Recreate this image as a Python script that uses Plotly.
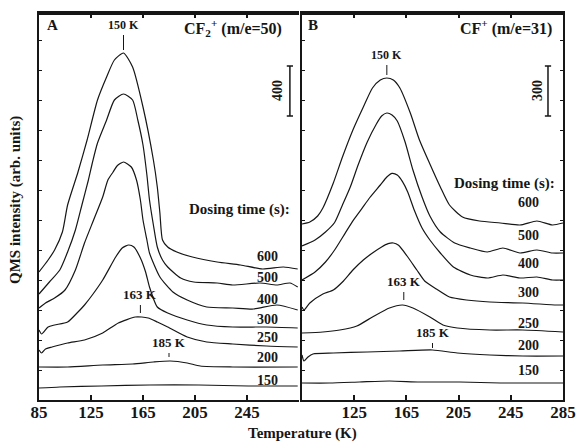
import plotly.graph_objects as go

# ---------------- data ----------------
DOSES = ["600", "500", "400", "300", "250", "200", "150"]
X_TICKS_A = [85, 125, 165, 205, 245]
X_TICKS_B = [125, 165, 205, 245, 285]

# Panel A : CF2+ (m/e=50), offset traces, arb. units
T_A_600 = [85, 92, 97, 103, 107, 115, 122, 130, 137, 143, 150, 157, 165, 173, 176, 178, 180, 184, 191, 203, 222, 240, 257, 273, 284]
I_A_600 = [1024, 1120, 1200, 1344, 1560, 1824, 2080, 2400, 2584, 2720, 2776, 2664, 2344, 1920, 1704, 1496, 1280, 1224, 1184, 1144, 1104, 1080, 1048, 1064, 1048]
T_A_500 = [85, 93, 101, 107, 113, 118, 123, 126, 130, 137, 143, 150, 157, 161, 165, 168, 170, 173, 176, 180, 184, 194, 204, 222, 234, 255, 268, 278, 284]
I_A_500 = [848, 944, 1040, 1184, 1360, 1560, 1760, 1896, 2056, 2240, 2400, 2448, 2400, 2240, 2040, 1800, 1600, 1400, 1224, 1120, 1064, 976, 944, 936, 920, 936, 920, 936, 904]
T_A_400 = [85, 90, 97, 105, 113, 120, 127, 134, 138, 142, 145, 150, 156, 160, 163, 165, 168, 170, 178, 188, 199, 214, 234, 250, 268, 284]
I_A_400 = [736, 776, 816, 880, 1040, 1256, 1440, 1624, 1760, 1824, 1872, 1904, 1864, 1760, 1600, 1440, 1280, 1176, 984, 864, 800, 744, 736, 728, 760, 720]
T_A_300 = [85, 87, 92, 97, 107, 115, 120, 126, 134, 144, 149, 154, 158, 163, 167, 170, 176, 184, 199, 214, 234, 260, 284]
I_A_300 = [560, 528, 584, 600, 624, 704, 760, 840, 960, 1144, 1216, 1240, 1224, 1136, 1024, 904, 744, 696, 640, 600, 584, 584, 576]
T_A_250 = [85, 87, 90, 95, 107, 120, 134, 146, 159, 164, 169, 176, 184, 199, 214, 234, 260, 284]
I_A_250 = [400, 376, 408, 424, 456, 480, 536, 616, 664, 664, 656, 624, 584, 504, 464, 448, 432, 424]
T_A_200 = [85, 107, 134, 157, 173, 186, 199, 209, 234, 284]
I_A_200 = [264, 264, 280, 288, 304, 312, 296, 272, 264, 264]
T_A_150 = [85, 101, 133, 170, 208, 246, 284]
I_A_150 = [96, 104, 112, 120, 120, 112, 112]

# Panel B : CF+ (m/e=31)
T_B_600 = [85, 91, 97, 101, 109, 116, 124, 132, 139, 145, 150, 155, 160, 168, 175, 183, 191, 198, 208, 221, 237, 252, 265, 277, 285]
I_B_600 = [1056, 1068, 1104, 1152, 1302, 1458, 1620, 1758, 1872, 1920, 1932, 1920, 1872, 1722, 1560, 1416, 1278, 1170, 1098, 1074, 1062, 1050, 1074, 1050, 1062]
T_B_500 = [85, 95, 103, 110, 116, 122, 128, 135, 142, 146, 150, 154, 158, 164, 170, 177, 183, 191, 202, 214, 227, 239, 252, 265, 277, 285]
I_B_500 = [924, 960, 1008, 1065, 1170, 1278, 1410, 1548, 1656, 1704, 1722, 1710, 1674, 1548, 1380, 1218, 1104, 1008, 942, 912, 888, 912, 882, 900, 882, 882]
T_B_400 = [85, 95, 103, 110, 118, 124, 131, 137, 145, 150, 154, 158, 162, 166, 171, 177, 183, 191, 201, 214, 227, 239, 252, 265, 277, 285]
I_B_400 = [720, 768, 828, 900, 1000, 1075, 1150, 1215, 1290, 1338, 1360, 1350, 1310, 1248, 1140, 1032, 960, 882, 798, 750, 732, 750, 732, 738, 720, 720]
T_B_300 = [85, 86.5, 91, 101, 109, 116, 124, 132, 139, 146, 151, 155, 159, 165.5, 173, 179, 188, 198, 211, 229, 254, 280, 285]
I_B_300 = [558, 540, 582, 636, 660, 708, 780, 840, 882, 918, 938, 942, 928, 864, 780, 714, 666, 618, 600, 588, 582, 570, 570]
T_B_250 = [85, 101, 114, 127, 139, 152, 162, 170, 183, 193, 204, 229, 254, 285]
I_B_250 = [402, 408, 420, 444, 498, 552, 570, 552, 498, 450, 432, 420, 420, 408]
T_B_200 = [85, 86.5, 89.6, 93.4, 109, 135, 160, 185, 204, 229, 254, 285]
I_B_200 = [270, 234, 258, 276, 282, 288, 294, 300, 282, 270, 264, 264]
T_B_150 = [85, 106, 129, 152, 175, 206, 237, 285]
I_B_150 = [102, 102, 108, 114, 108, 108, 102, 102]

SCALE_A = 400   # scale-bar value, panel A
SCALE_B = 300   # scale-bar value, panel B

# ---------------- geometry / style ----------------
W, H = 577, 442
X0, X1, Y0, Y1 = 39, 563, 13, 400          # plot box in page pixels
L, R, T, B = X0, W - X1, Y0, H - Y1
PW, PH = X1 - X0, Y1 - Y0
UNIT_A = 8.0   # data units per pixel (vertical)
UNIT_B = 6.0
FONT = "Liberation Serif, Times New Roman, DejaVu Serif, serif"
INK = "#161616"


def px(x):
    return (x - X0) / PW


def py(y):
    return (Y1 - y) / PH


curves_A = [(T_A_600, I_A_600), (T_A_500, I_A_500), (T_A_400, I_A_400), (T_A_300, I_A_300),
            (T_A_250, I_A_250), (T_A_200, I_A_200), (T_A_150, I_A_150)]
curves_B = [(T_B_600, I_B_600), (T_B_500, I_B_500), (T_B_400, I_B_400), (T_B_300, I_B_300),
            (T_B_250, I_B_250), (T_B_200, I_B_200), (T_B_150, I_B_150)]

fig = go.Figure()
for (tx, iy), d in zip(curves_A, DOSES):
    fig.add_trace(go.Scatter(x=tx, y=iy, mode="lines", name=d + " s",
                             line=dict(color=INK, width=1.2, shape="spline", smoothing=0.6),
                             xaxis="x", yaxis="y", hoverinfo="skip"))
for (tx, iy), d in zip(curves_B, DOSES):
    fig.add_trace(go.Scatter(x=tx, y=iy, mode="lines", name=d + " s",
                             line=dict(color=INK, width=1.2, shape="spline", smoothing=0.6),
                             xaxis="x2", yaxis="y2", hoverinfo="skip"))

ann = []
shapes = []


def text(x, y, s, size, xanchor="center", angle=0):
    ann.append(dict(xref="paper", yref="paper", x=px(x), y=py(y), text="<b>" + s + "</b>",
                    showarrow=False, xanchor=xanchor, yanchor="middle", textangle=angle,
                    font=dict(family=FONT, size=size, color=INK)))


# peak markers, tied to the curve maxima
def peak_marker(xr, yr, unit, t, curve, gap, length, label, size):
    top = max(curve) + gap * unit
    shapes.append(dict(type="line", xref=xr, yref=yr, x0=t, x1=t, y0=top, y1=top + length * unit,
                       line=dict(color=INK, width=1)))
    ann.append(dict(xref=xr, yref=yr, x=t, y=top + length * unit, yshift=1, text="<b>" + label + "</b>",
                    showarrow=False, xanchor="center", yanchor="bottom",
                    font=dict(family=FONT, size=size, color=INK)))


peak_marker("x", "y", UNIT_A, 150, I_A_600, 3, 15, "150 K", 12)
peak_marker("x", "y", UNIT_A, 163, I_A_250, 4, 8, "163 K", 13)
peak_marker("x", "y", UNIT_A, 185, I_A_200, 4, 4, "185 K", 13)
peak_marker("x2", "y2", UNIT_B, 150, I_B_600, 3, 10, "150 K", 12)
peak_marker("x2", "y2", UNIT_B, 163, I_B_250, 5, 8, "163 K", 13)
peak_marker("x2", "y2", UNIT_B, 185, I_B_200, 2, 5, "185 K", 13)


# scale bars
def scale_bar(xr, yr, t, base, val, cap):
    shapes.append(dict(type="line", xref=xr, yref=yr, x0=t, x1=t, y0=base, y1=base + val,
                       line=dict(color=INK, width=1.5)))
    for yy in (base, base + val):
        shapes.append(dict(type="line", xref=xr, yref=yr, x0=t - cap, x1=t + cap, y0=yy, y1=yy,
                           line=dict(color=INK, width=1.5)))


scale_bar("x", "y", 278, 2272, SCALE_A, 2.4)
scale_bar("x2", "y2", 273.5, 1704, SCALE_B, 2.4)
text(277, 91, str(SCALE_A), 14, angle=-90)
text(537, 91, str(SCALE_B), 14, angle=-90)

# explicit top frame of both panels
for xr in ("x", "x2"):
    shapes.append(dict(type="line", xref=xr + " domain", yref="paper", x0=0, x1=1,
                       y0=1 - 1 / PH, y1=1 - 1 / PH, line=dict(color=INK, width=2)))

# panel titles
text(52, 25, "A", 15)
text(313, 25, "B", 15)
text(284, 28, "CF<sub>2</sub><sup>+</sup> (m/e=50)", 16, xanchor="right")
text(554, 28, "CF<sup>+</sup> (m/e=31)", 16, xanchor="right")
text(292, 210, "Dosing time (s):", 15, xanchor="right")
text(557, 183, "Dosing time (s):", 15, xanchor="right")

LAB_Y_A = [256, 277, 299, 319, 337, 357, 380]
LAB_Y_B = [203, 235, 263, 292, 323, 345, 370]
for d, yy in zip(DOSES, LAB_Y_A):
    text(267, yy, d, 14)
for d, yy in zip(DOSES, LAB_Y_B):
    text(528, yy, d, 14)

# axis titles
text(15, 200, "QMS intensity (arb. units)", 15, angle=-90)
text(302, 433, "Temperature (K)", 15)

xcommon = dict(range=[85, 285], showline=True, linecolor=INK, linewidth=2, mirror="ticks",
               ticks="inside", ticklen=5, tickwidth=1.5, tickcolor=INK, showgrid=False, zeroline=False,
               automargin=False, ticklabelstandoff=-4,
               tickfont=dict(family=FONT, size=17, color=INK, weight="bold"))
ycommon = dict(domain=[0, 1], showline=True, linecolor=INK, linewidth=2, ticks="inside", ticklen=3,
               tickwidth=1, tickcolor=INK, showticklabels=False, showgrid=False, zeroline=False,
               automargin=False)

fig.update_layout(
    width=W, height=H, margin=dict(l=L, r=R, t=T, b=B, autoexpand=False),
    paper_bgcolor="white", plot_bgcolor="white", showlegend=False,
    font=dict(family=FONT, color=INK),
    xaxis=dict(domain=[0, px(299)], tickvals=X_TICKS_A, anchor="y", **xcommon),
    yaxis=dict(range=[0, PH * UNIT_A], dtick=240, anchor="x", mirror=False, **ycommon),
    xaxis2=dict(domain=[px(302), 1], tickvals=X_TICKS_B, anchor="y2", **xcommon),
    yaxis2=dict(range=[0, PH * UNIT_B], dtick=180, anchor="x2", mirror="ticks", **ycommon),
    annotations=ann, shapes=shapes,
)

# page without the browser's default body margin, so the figure fills the window exactly
fig.write_html("out.html", config={"displayModeBar": False},
               post_script="document.body.style.margin='0';document.body.style.overflow='hidden';")
